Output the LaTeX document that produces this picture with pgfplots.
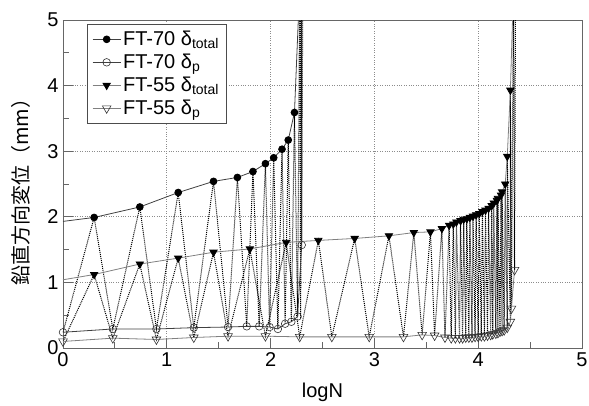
\documentclass[border=0pt]{standalone}
\usepackage{fontspec}
\setmainfont{Liberation Sans}
\newfontfamily\jp{Noto Sans CJK JP}
\usepackage{pgfplots}
\pgfplotsset{compat=1.18}
\begin{document}
\begin{tikzpicture}
\useasboundingbox (-63pt,-57pt) rectangle (526pt,348pt);
\begin{axis}[
  scale only axis, width=519pt, height=328pt,
  xmin=0, xmax=5, ymin=0, ymax=5,
  xtick={0,1,2,3,4,5}, ytick={0,1,2,3,4,5},
  minor x tick num=1, minor y tick num=1,
  tick align=inside, xtick pos=left, ytick pos=left,
  major tick length=10pt, minor tick length=6pt,
  axis line style={black!60, line width=0.8pt},
  tick style={black!60, line width=0.8pt},
  grid=major, major grid style={black!45, dotted, line width=0.8pt},
  /pgf/number format/assume math mode=true,
  ticklabel style={font=\fontsize{20}{22}\selectfont},
  xticklabel style={yshift=-1pt},
  yticklabel style={xshift=-1pt},
  xlabel={logN},
  xlabel style={font=\fontsize{20}{22}\selectfont, at={(axis description cs:0.5,-0.095)}, anchor=north},
  ylabel={{\jp 鉛直方向変位（mm）}},
  ylabel style={font=\fontsize{20}{22}\selectfont, at={(axis description cs:-0.082,0.49)}, anchor=center},
  legend style={at={(axis description cs:0.046,0.988)}, anchor=north west,
    font=\fontsize{20}{23}\selectfont, draw=black!70, line width=0.8pt,
    inner xsep=5pt, inner ysep=6pt, row sep=5pt,
    nodes={inner ysep=1pt}},
  legend cell align=left,
  legend image code/.code={\draw[mark repeat=2,mark phase=2] plot coordinates {(0pt,0pt)(14pt,0pt)(28pt,0pt)};},
]
% dotted loading paths (drawn first)
\addplot[forget plot, densely dotted, line width=1pt, black] coordinates {
(0,0.24)(0.30,1.99)(0.48,0.29)(0.74,2.15)(0.90,0.29)(1.11,2.37)(1.26,0.31)(1.45,2.54)
(1.59,0.32)(1.68,2.60)(1.77,0.33)(1.83,2.69)(1.89,0.33)(1.95,2.81)(1.99,0.32)(2.03,2.90)
(2.07,0.29)(2.11,3.03)(2.14,0.37)(2.17,3.17)(2.20,0.40)(2.23,3.59)(2.26,0.48)(2.28,5.5)
(2.29,0.45)(2.295,5.5)(2.30,1.57)(2.31,5.5)};
\addplot[forget plot, densely dotted, line width=1pt, black] coordinates {
(0,0.10)(0.30,1.12)(0.48,0.15)(0.74,1.28)(0.90,0.13)(1.11,1.37)(1.26,0.16)(1.45,1.46)
(1.59,0.18)(1.80,1.51)(1.95,0.18)(2.15,1.61)(2.28,0.17)(2.46,1.64)(2.59,0.17)(2.81,1.67)
(2.95,0.17)(3.14,1.71)(3.28,0.17)(3.38,1.76)(3.46,0.20)(3.54,1.77)(3.58,0.19)(3.65,1.82)
(3.68,0.16)(3.72,1.87)(3.74,0.15)(3.76,1.89)(3.78,0.15)(3.79,1.92)(3.82,0.15)(3.83,1.94)
(3.85,0.15)(3.86,1.96)(3.88,0.16)(3.89,1.97)(3.91,0.16)(3.92,1.99)(3.94,0.16)(3.95,2.01)
(3.97,0.17)(3.98,2.03)(4.00,0.17)(4.01,2.05)(4.03,0.18)(4.04,2.08)(4.06,0.18)(4.07,2.10)
(4.09,0.19)(4.10,2.13)(4.12,0.20)(4.13,2.17)(4.14,0.21)(4.15,2.21)(4.17,0.22)(4.18,2.25)
(4.19,0.23)(4.19,2.28)(4.21,0.25)(4.22,2.33)(4.23,0.26)(4.23,2.38)(4.25,0.27)(4.26,2.50)
(4.28,0.31)(4.28,2.92)(4.31,0.40)(4.31,3.93)(4.32,0.60)(4.34,5.5)(4.35,1.19)(4.36,5.5)};
% solid lead-in segments and run-off segments
\addplot[forget plot, black!75, line width=0.8pt] coordinates {(0,1.93)(0.30,1.99)};
\addplot[forget plot, black!75, line width=0.8pt] coordinates {(2.23,3.59)(2.28,5.5)};
\addplot[forget plot, black!50, line width=0.8pt] coordinates {(0,1.04)(0.30,1.12)};
\addplot[forget plot, black!50, line width=0.8pt] coordinates {(4.31,3.93)(4.34,5.5)};
% FT-70 total
\addplot[black!75, line width=0.8pt, mark=*, mark size=3.4pt, mark options={solid, fill=black, draw=black}] coordinates {
(0.30,1.99)(0.74,2.15)(1.11,2.37)(1.45,2.54)(1.68,2.60)(1.83,2.69)(1.95,2.81)(2.03,2.90)
(2.11,3.03)(2.17,3.17)(2.23,3.59)};
\addlegendentry{FT-70 δ\textsubscript{total}}
% FT-70 p
\addplot[black!75, line width=0.8pt, mark=o, mark size=3.8pt, mark options={solid, draw=black!80, line width=0.6pt}] coordinates {
(0,0.24)(0.48,0.29)(0.90,0.29)(1.26,0.31)(1.59,0.32)(1.77,0.33)(1.89,0.33)(1.99,0.32)
(2.07,0.29)(2.14,0.37)(2.20,0.40)(2.26,0.48)(2.30,1.57)};
\addlegendentry{FT-70 δ\textsubscript{p}}
% FT-55 total
\addplot[black!50, line width=0.8pt, mark=triangle*, mark size=4.2pt, mark options={solid, rotate=180, fill=black, draw=black}] coordinates {
(0.30,1.12)(0.74,1.28)(1.11,1.37)(1.45,1.46)(1.80,1.51)(2.15,1.61)(2.46,1.64)(2.81,1.67)
(3.14,1.71)(3.38,1.76)(3.54,1.77)(3.65,1.82)(3.72,1.87)(3.76,1.89)(3.79,1.92)(3.83,1.94)
(3.86,1.96)(3.89,1.97)(3.92,1.99)(3.95,2.01)(3.98,2.03)(4.01,2.05)(4.04,2.08)(4.07,2.10)
(4.10,2.13)(4.13,2.17)(4.15,2.21)(4.18,2.25)(4.19,2.28)(4.22,2.33)(4.23,2.38)(4.26,2.50)
(4.28,2.92)(4.31,3.93)};
\addlegendentry{FT-55 δ\textsubscript{total}}
% FT-55 p
\addplot[black!50, line width=0.8pt, mark=triangle, mark size=5pt, mark options={solid, rotate=180, draw=black!80, line width=0.6pt}] coordinates {
(0,0.10)(0.48,0.15)(0.90,0.13)(1.26,0.16)(1.59,0.18)(1.95,0.18)(2.28,0.17)(2.59,0.17)
(2.95,0.17)(3.28,0.17)(3.46,0.20)(3.58,0.19)(3.68,0.16)(3.74,0.15)(3.78,0.15)(3.82,0.15)
(3.85,0.15)(3.88,0.16)(3.91,0.16)(3.94,0.16)(3.97,0.17)(4.00,0.17)(4.03,0.18)(4.06,0.18)
(4.09,0.19)(4.12,0.20)(4.14,0.21)(4.17,0.22)(4.19,0.23)(4.21,0.25)(4.23,0.26)(4.25,0.27)
(4.28,0.31)(4.31,0.40)(4.32,0.60)(4.35,1.19)};
\addlegendentry{FT-55 δ\textsubscript{p}}
\end{axis}
\end{tikzpicture}
\end{document}
